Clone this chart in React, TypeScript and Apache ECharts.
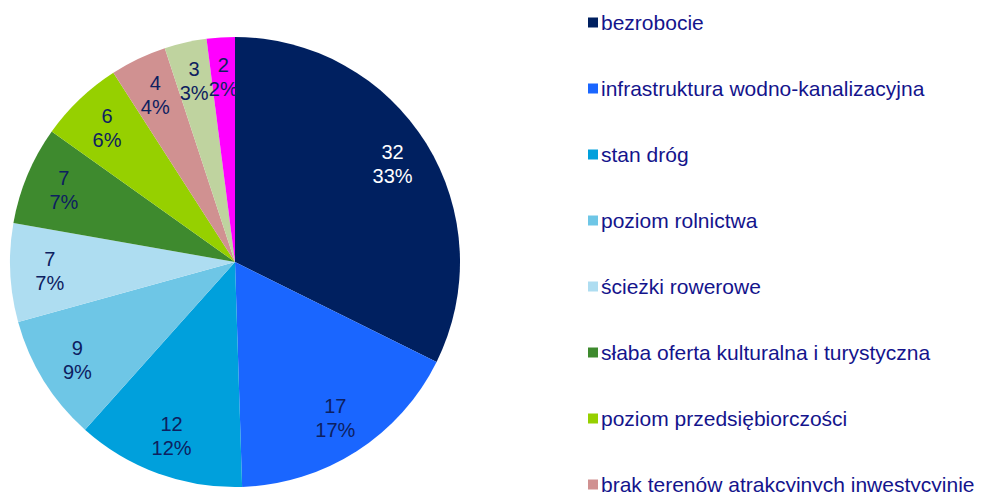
import React, { useEffect, useRef } from "react";
import * as echarts from "echarts";

const categories = [
  "bezrobocie",
  "infrastruktura wodno-kanalizacyjna",
  "stan dróg",
  "poziom rolnictwa",
  "ścieżki rowerowe",
  "słaba oferta kulturalna i turystyczna",
  "poziom przedsiębiorczości",
  "brak terenów atrakcyjnych inwestycyjnie",
  "kategoria 9",
  "kategoria 10",
];
const legendItems = categories.slice(0, 8);
const values = [32, 17, 12, 9, 7, 7, 6, 4, 3, 2];
const percents = ["33%", "17%", "12%", "9%", "7%", "7%", "6%", "4%", "3%", "2%"];
const colors = [
  "#002060",
  "#1A66FF",
  "#00A0DC",
  "#6EC6E6",
  "#AEDDF1",
  "#3E8A2E",
  "#96D000",
  "#D09191",
  "#BFD39F",
  "#FF00FF",
];
const labelColors = [
  "#FFFFFF",
  "#0D2060",
  "#0D2060",
  "#0D2060",
  "#0D2060",
  "#0D2060",
  "#0D2060",
  "#0D2060",
  "#0D2060",
  "#0D2060",
];

export default function App() {
  const ref = useRef<HTMLDivElement>(null);
  useEffect(() => {
    document.body.style.margin = "0";
    const chart = echarts.init(ref.current!, null, { renderer: "svg" });
    const font = "Liberation Sans, Arial, sans-serif";
    chart.setOption({
      animation: false,
      backgroundColor: "#FFFFFF",
      color: colors,
      legend: {
        orient: "vertical",
        left: 583,
        top: 7,
        height: 700,
        data: legendItems,
        icon: "rect",
        itemWidth: 10,
        itemHeight: 10,
        itemGap: 45,
        selectedMode: false,
        textStyle: {
          fontFamily: font,
          fontSize: 21,
          lineHeight: 20,
          color: "#14148C",
          padding: [0, 0, 0, -2],
        },
      },
      series: [
        {
          type: "pie",
          center: [235, 262],
          radius: 225,
          startAngle: 90,
          clockwise: true,
          silent: true,
          label: { show: false },
          labelLine: { show: false },
          itemStyle: { borderWidth: 0 },
          data: categories.map((n, i) => ({
            name: n,
            value: values[i],
            itemStyle: { color: colors[i] },
          })),
        },
        {
          type: "pie",
          center: [235, 262],
          radius: [140, 225],
          startAngle: 90,
          clockwise: true,
          silent: true,
          labelLine: { show: false },
          itemStyle: { color: "rgba(0,0,0,0)", borderWidth: 0 },
          label: {
            show: true,
            position: "inside",
            fontFamily: font,
            fontSize: 20,
            lineHeight: 24,
          },
          data: categories.map((n, i) => ({
            name: n,
            value: values[i],
            itemStyle: { color: "rgba(0,0,0,0)" },
            label: {
              color: labelColors[i],
              formatter: values[i] + "\n" + percents[i],
            },
          })),
        },
      ],
    });
    return () => chart.dispose();
  }, []);
  return <div ref={ref} style={{ width: 982, height: 492 }} />;
}
